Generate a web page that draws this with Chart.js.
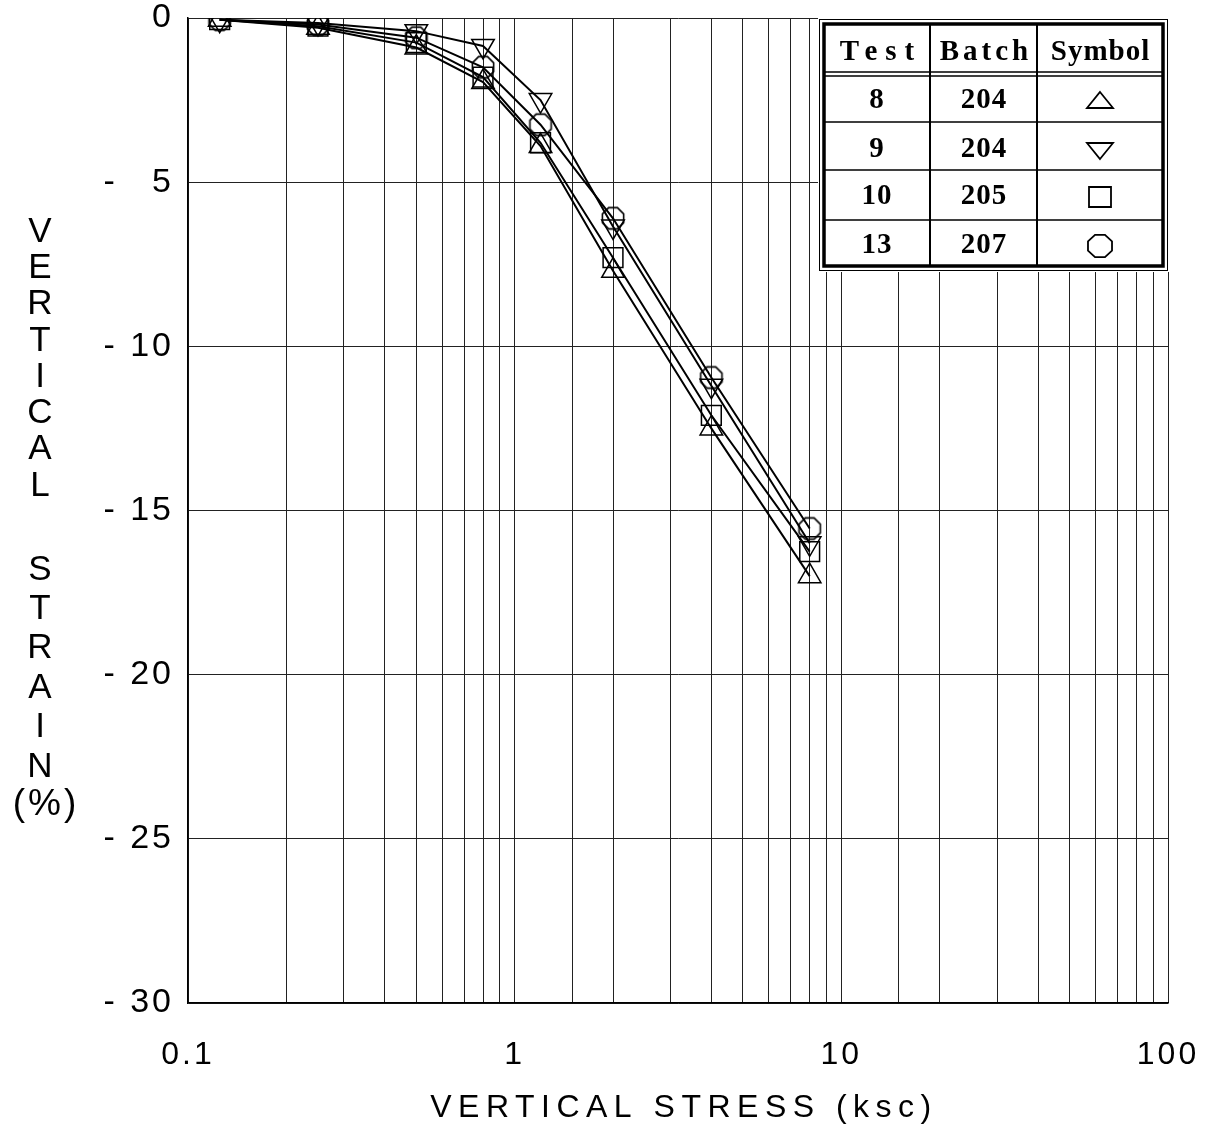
<!DOCTYPE html>
<html>
<head>
<meta charset="utf-8">
<script src="https://cdn.jsdelivr.net/npm/chart.js@4/dist/chart.umd.min.js"></script>
<style>
html,body{margin:0;padding:0;background:#fff;}
canvas{display:block;}
</style>
</head>
<body>
<canvas id="c" width="1211" height="1129"></canvas>
<script>
// ---- data ----
const stressKsc = [0.125, 0.25, 0.5, 0.8, 1.2, 2, 4, 8];
const test8 = [-0.05, -0.3, -0.9, -1.95, -3.9, -7.7, -12.5, -17.0];
const test9 = [-0.05, -0.15, -0.4, -0.85, -2.5, -6.35, -11.2, -16.0];
const test10 = [-0.05, -0.25, -0.75, -1.8, -3.8, -7.3, -12.1, -16.25];
const test13 = [-0.05, -0.2, -0.6, -1.5, -3.25, -6.1, -10.95, -15.55];
const xTickLabels = [0.1, 1, 10, 100];
const tableHeader = ['Test', 'Batch', 'Symbol'];
const tableTests = ['8', '9', '10', '13'];
const tableBatches = ['204', '204', '205', '207'];
const tableSymbols = ['triangle', 'triangleDown', 'rect', 'octagon'];

function pts(vals){ return stressKsc.map((x,i)=>({x:x, y:vals[i]})); }

function octagonCanvas(size, r){
  const c = document.createElement('canvas');
  c.width = size; c.height = size;
  const g = c.getContext('2d');
  g.strokeStyle = '#000'; g.lineWidth = 1.6;
  g.beginPath();
  for(let i=0;i<8;i++){
    const a = Math.PI/8 + i*Math.PI/4;
    const px = size/2 + r*Math.cos(a), py = size/2 + r*Math.sin(a);
    if(i===0) g.moveTo(px,py); else g.lineTo(px,py);
  }
  g.closePath(); g.stroke();
  return c;
}
const oct = octagonCanvas(26, 11.5);

function ds(label, vals, style, radius, rot){
  return {
    label: label, data: pts(vals),
    borderColor:'#000', borderWidth:2, tension:0,
    pointStyle: style, pointRadius: radius, pointRotation: rot||0,
    pointBorderColor:'#000', pointBorderWidth:1.5,
    pointBackgroundColor:'rgba(0,0,0,0)', fill:false
  };
}

function drawSym(ctx, type, x, y){
  ctx.save();
  ctx.strokeStyle='#000'; ctx.lineWidth=1.8;
  ctx.beginPath();
  if(type==='triangle'){
    ctx.moveTo(x, y-9); ctx.lineTo(x+13, y+7); ctx.lineTo(x-13, y+7); ctx.closePath();
  } else if(type==='triangleDown'){
    ctx.moveTo(x, y+9); ctx.lineTo(x+13, y-7); ctx.lineTo(x-13, y-7); ctx.closePath();
  } else if(type==='rect'){
    ctx.rect(x-11, y-10, 22, 20);
  } else {
    for(let i=0;i<8;i++){
      const a = Math.PI/8 + i*Math.PI/4;
      const px = x + 13*Math.cos(a), py = y + 12*Math.sin(a);
      if(i===0) ctx.moveTo(px,py); else ctx.lineTo(px,py);
    }
    ctx.closePath();
  }
  ctx.stroke();
  ctx.restore();
}

const decor = {
  id:'decor',
  beforeDraw(chart){ chart.ctx.letterSpacing = '3px'; },
  afterDraw(chart){
    const ctx = chart.ctx;
    ctx.save();
    ctx.letterSpacing = '0px';
    // --- legend table ---
    const L=824, R=1163, T=24, B=266;
    ctx.fillStyle='#fff';
    ctx.fillRect(818, 18, 351, 254);
    ctx.strokeStyle='#000';
    ctx.lineWidth=1; ctx.strokeRect(819.5, 19.5, 348, 251);
    ctx.lineWidth=3.5; ctx.strokeRect(L, T, R-L, B-T);
    ctx.lineWidth=1.5;
    ctx.beginPath();
    ctx.moveTo(L, 72); ctx.lineTo(R, 72);
    ctx.moveTo(L, 76); ctx.lineTo(R, 76);
    [122, 170, 220].forEach(yy=>{ ctx.moveTo(L, yy); ctx.lineTo(R, yy); });
    ctx.stroke();
    ctx.lineWidth=2;
    ctx.beginPath();
    ctx.moveTo(930, T); ctx.lineTo(930, B);
    ctx.moveTo(1037, T); ctx.lineTo(1037, B);
    ctx.stroke();
    ctx.fillStyle='#000';
    ctx.textAlign='center'; ctx.textBaseline='middle';
    const colC = [877, 984, 1100];
    const hdrSpacing = ['8px','4px','1px'];
    ctx.font = 'bold 29px "Liberation Serif", "DejaVu Serif", serif';
    tableHeader.forEach((h,i)=>{
      ctx.letterSpacing = hdrSpacing[i];
      ctx.fillText(h, colC[i] + parseFloat(hdrSpacing[i])/2, 53);
    });
    ctx.letterSpacing='1px';
    ctx.font = 'bold 29px "Liberation Serif", "DejaVu Serif", serif';
    const rowC = [101, 150, 197, 246];
    tableTests.forEach((t,i)=>{
      ctx.fillText(t, colC[0], rowC[i]);
      ctx.fillText(tableBatches[i], colC[1], rowC[i]);
      drawSym(ctx, tableSymbols[i], colC[2], rowC[i]);
    });
    // --- y title ---
    ctx.letterSpacing='0px';
    ctx.font = '35px "Liberation Sans", Arial, sans-serif';
    'VERTICAL'.split('').forEach((ch,i)=>ctx.fillText(ch, 40, 232 + i*36.3));
    'STRAIN'.split('').forEach((ch,i)=>ctx.fillText(ch, 40, 570 + i*39.4));
    ctx.font = '37px "Liberation Sans", Arial, sans-serif';
    ctx.letterSpacing='3px';
    ctx.fillText('(%)', 46, 805);
    // --- x title ---
    ctx.font = '32px "Liberation Sans", Arial, sans-serif';
    ctx.letterSpacing='6.5px';
    ctx.fillText('VERTICAL STRESS (ksc)', 684, 1108);
    ctx.restore();
  }
};

function noPad(s){ s.paddingTop = 0; s.paddingBottom = 0; s.paddingLeft = 0; s.paddingRight = 0; }

new Chart(document.getElementById('c'), {
  type:'line',
  data:{ datasets:[
    ds('8', test8, 'triangle', 13, 0),
    ds('9', test9, 'triangle', 13, 180),
    ds('10', test10, 'rect', 14, 0),
    ds('13', test13, oct, 12, 0)
  ]},
  options:{
    responsive:false, animation:false,
    layout:{ padding:{ top:18, right:43, left:0, bottom:0 } },
    plugins:{ legend:{display:false}, tooltip:{enabled:false} },
    scales:{
      x:{
        type:'logarithmic', min:0.1, max:100,
        afterFit(s){ s.height = 126; noPad(s); },
        grid:{ color:'#222', lineWidth:1, drawTicks:false },
        border:{ color:'#000', width:1.5 },
        ticks:{
          autoSkip:false, maxRotation:0, minRotation:0, padding:33,
          color:'#000',
          font:{ family:'"Liberation Sans", Arial, sans-serif', size:32 },
          callback(v){ return xTickLabels.some(t=>Math.abs(t-v)<1e-9) ? String(v) : ''; }
        }
      },
      y:{
        min:-30, max:0,
        afterFit(s){ s.width = 188; noPad(s); },
        grid:{ color:'#222', lineWidth:1, drawTicks:false },
        border:{ color:'#000', width:1.5 },
        ticks:{
          stepSize:5, padding:14, color:'#000',
          font:{ family:'"Liberation Sans", Arial, sans-serif', size:34 },
          callback(v){
            if (v >= 0) return String(v);
            const n = String(-v);
            return '- ' + (n.length === 1 ? '\u2007' : '') + n;
          }
        }
      }
    }
  },
  plugins:[decor]
});
</script>
</body>
</html>
